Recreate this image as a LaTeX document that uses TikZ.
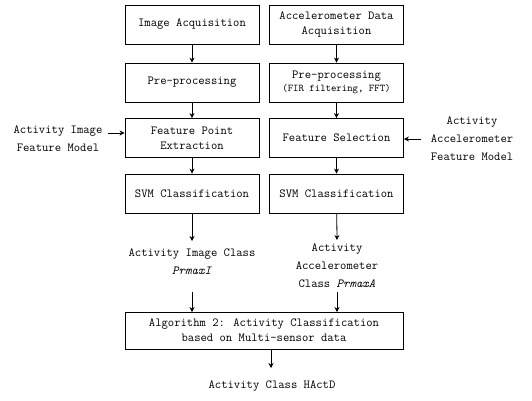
\documentclass[tikz,border=0pt]{standalone}
\usepackage{fontspec}
\usetikzlibrary{arrows.meta}
\begin{document}
\begin{tikzpicture}[x=1pt,y=-1pt,
  stepbox/.style={draw,line width=0.8pt,minimum width=134pt,minimum height=39pt,
    align=center,inner sep=0pt,font=\ttfamily\fontsize{12.3}{15}\selectfont},
  lbl/.style={align=center,inner sep=0pt,font=\ttfamily\fontsize{12.3}{18}\selectfont},
  flow/.style={-{Stealth[length=5pt,width=5pt]},line width=0.8pt}]
\useasboundingbox (0,0) rectangle (532,400);
% left column: image pipeline
\node[stepbox] (ia) at (192,24.5) {Image Acquisition};
\node[stepbox] (ip) at (192,82.5) {Pre-processing};
\node[stepbox] (ie) at (192,138) {Feature Point\\Extraction};
\node[stepbox] (is) at (192,193.5) {SVM Classification};
% right column: accelerometer pipeline
\node[stepbox] (aa) at (336.5,24.5) {Accelerometer Data\\Acquisition};
\node[stepbox] (ap) at (336.5,82.5) {Pre-processing\\[-2pt]{\fontsize{10.3}{12}\selectfont(FIR filtering, FFT)}};
\node[stepbox] (af) at (336.5,138) {Feature Selection};
\node[stepbox] (as) at (336.5,193.5) {SVM Classification};
% feature models
\node[lbl] (im) at (58,139) {Activity Image\\Feature Model};
\node[lbl] (am) at (472,139) {Activity\\Accelerometer\\Feature Model};
% intermediate results
\node[lbl] (ic) at (192,261.5) {Activity Image Class\\\textit{PrmaxI}};
\node[lbl] (ac) at (337,266) {Activity\\Accelerometer\\Class \textit{PrmaxA}};
% fusion
\node[stepbox,minimum width=278pt,minimum height=37pt] (fu) at (264,330.5)
  {Algorithm 2: Activity Classification\\based on Multi-sensor data};
\node[lbl] (out) at (272,386) {Activity Class HActD};
\coordinate (fi) at (192,312);
\coordinate (fa) at (337,312);
\coordinate (fo) at (271,349);
% connectors
\draw[flow] (ia) -- (ip);
\draw[flow] (ip) -- (ie);
\draw[flow] (ie) -- (is);
\draw[flow] (is) -- (192,241);
\draw[flow] (aa) -- (ap);
\draw[flow] (ap) -- (af);
\draw[flow] (af) -- (as);
\draw[flow] (as) -- (337,240);
\draw[flow] (108,133) -- (ie.west |- 0,133);
\draw[flow] (421,139) -- (af.east |- 0,139);
\draw[flow] (192,292) -- (fi);
\draw[flow] (337,292) -- (fa);
\draw[flow] (fo) -- (271,368);
\end{tikzpicture}
\end{document}
